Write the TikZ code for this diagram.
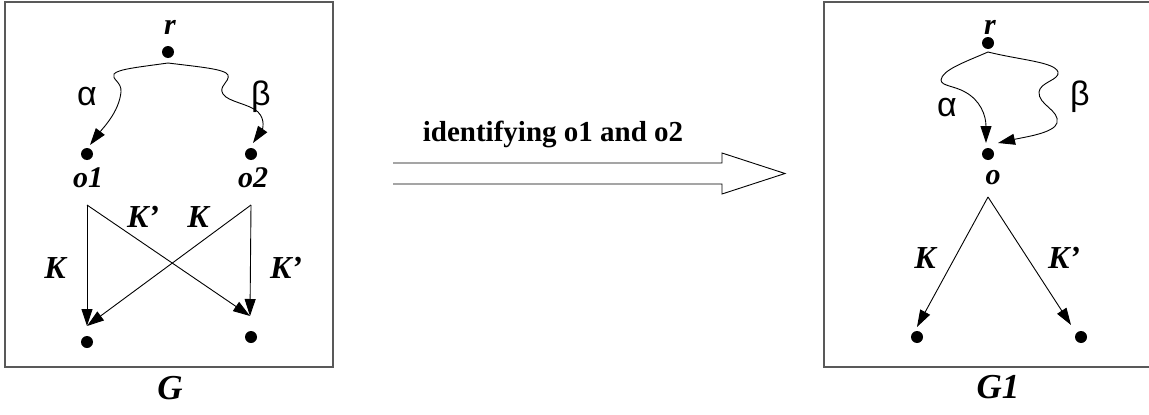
\documentclass[tikz,border=0pt]{standalone}
\usepackage{fontspec}
\setmainfont{Liberation Serif}
\newfontfamily\grfont{Liberation Sans}
\usetikzlibrary{arrows.meta}
\tikzset{
  lab/.style={font=\fontsize{30}{30}\selectfont\bfseries\itshape, inner sep=0pt},
  klab/.style={font=\fontsize{32}{32}\selectfont\bfseries\itshape, inner sep=0pt},
  gtitle/.style={font=\fontsize{35}{35}\selectfont\bfseries\itshape, inner sep=0pt},
  glab/.style={font=\fontsize{34}{34}\selectfont\grfont, inner sep=0pt},
  dotnode/.style={circle, fill=black, minimum size=12pt, inner sep=0pt},
  panel/.style={draw=black!65, line width=1.6pt},
  edge/.style={line width=0.9pt, -{Triangle[length=17pt,width=11pt]}},
}
\begin{document}
\begin{tikzpicture}[x=1pt,y=-1pt]
\useasboundingbox (0,0) rectangle (1149,415);
% panels
\draw[panel] (5,2) rectangle (333,367);
\draw[panel] (1149,2) -- (824,2) -- (824,367) -- (1149,367);
% ---------- left graph G ----------
\node[lab] (rl) at (170,27) {r};
\node[dotnode] (r) at (168,52) {};
\coordinate (rs) at (168,63);
\node[dotnode] (o1) at (87,154) {};
\node[dotnode] (o2) at (251,154) {};
\node[lab] (o1l) at (88,178) {o1};
\node[lab] (o2l) at (253,178) {o2};
\coordinate (o1s) at (87,205);
\coordinate (o2s) at (251,205);
\coordinate (t1) at (87,326);
\coordinate (t2) at (250,316);
\node[dotnode] (b1) at (87,342) {};
\node[dotnode] (b2) at (251,337) {};
\coordinate (a1) at (90,145);
\coordinate (a2) at (253,143);
\draw[edge] (rs) .. controls (140,67) and (118,69) .. (114,74)
  .. controls (111,79) and (122,82) .. (121,92)
  .. controls (119,112) and (103,128) .. (a1);
\draw[edge] (rs) .. controls (200,67) and (225,69) .. (228,75)
  .. controls (230,82) and (218,86) .. (223,94)
  .. controls (228,102) and (250,104) .. (258,112)
  .. controls (266,120) and (262,130) .. (a2);
\node[glab] (al) at (87,97) {α};
\node[glab] (bl) at (261,97) {β};
\draw[edge] (o1s) -- (t1);
\draw[edge] (o1s) -- (t2);
\draw[edge] (o2s) -- (t2);
\draw[edge] (o2s) -- (t1);
\node[klab] (k1) at (55,268) {K};
\node[klab] (k2) at (143,217) {K’};
\node[klab] (k3) at (198,217) {K};
\node[klab] (k4) at (286,268) {K’};
\node[gtitle] (gl) at (170,388) {G};
% ---------- arrow ----------
\node[font=\fontsize{29}{29}\selectfont\bfseries, inner sep=0pt] (id) at (553,134) {identifying o1 and o2};
\coordinate (s1) at (393,163);
\coordinate (s2) at (393,184);
\draw[line width=0.9pt] (s1) -- (722,163) -- (722,153) -- (785,173.5) -- (722,194) -- (722,184) -- (s2);
% ---------- right graph G1 ----------
\node[lab] (Rl) at (990,27) {r};
\node[dotnode] (R) at (988,43) {};
\coordinate (Rs) at (988,52);
\node[dotnode] (o) at (988,154) {};
\node[lab] (ol) at (993,178) {o};
\coordinate (os) at (988,197);
\coordinate (ta) at (986,143);
\coordinate (tb) at (998,143);
\draw[edge] (Rs) .. controls (965,62) and (942,70) .. (941,80)
  .. controls (941,86) and (955,86) .. (965,92)
  .. controls (980,100) and (986,115) .. (ta);
\draw[edge] (Rs) .. controls (1020,60) and (1055,62) .. (1058,72)
  .. controls (1060,80) and (1040,82) .. (1039,92)
  .. controls (1038,105) and (1060,110) .. (1057,123)
  .. controls (1054,133) and (1025,137) .. (tb);
\node[glab] (Al) at (947,108) {α};
\node[glab] (Bl) at (1080,97) {β};
\coordinate (tl) at (917,327);
\coordinate (tr) at (1071,325);
\node[dotnode] (c1) at (917,337) {};
\node[dotnode] (c2) at (1081,337) {};
\draw[edge] (os) -- (tl);
\draw[edge] (os) -- (tr);
\node[klab] (K1) at (925,258) {K};
\node[klab] (K2) at (1064,258) {K’};
\node[gtitle] (G1) at (998,387) {G1};
\end{tikzpicture}
\end{document}
